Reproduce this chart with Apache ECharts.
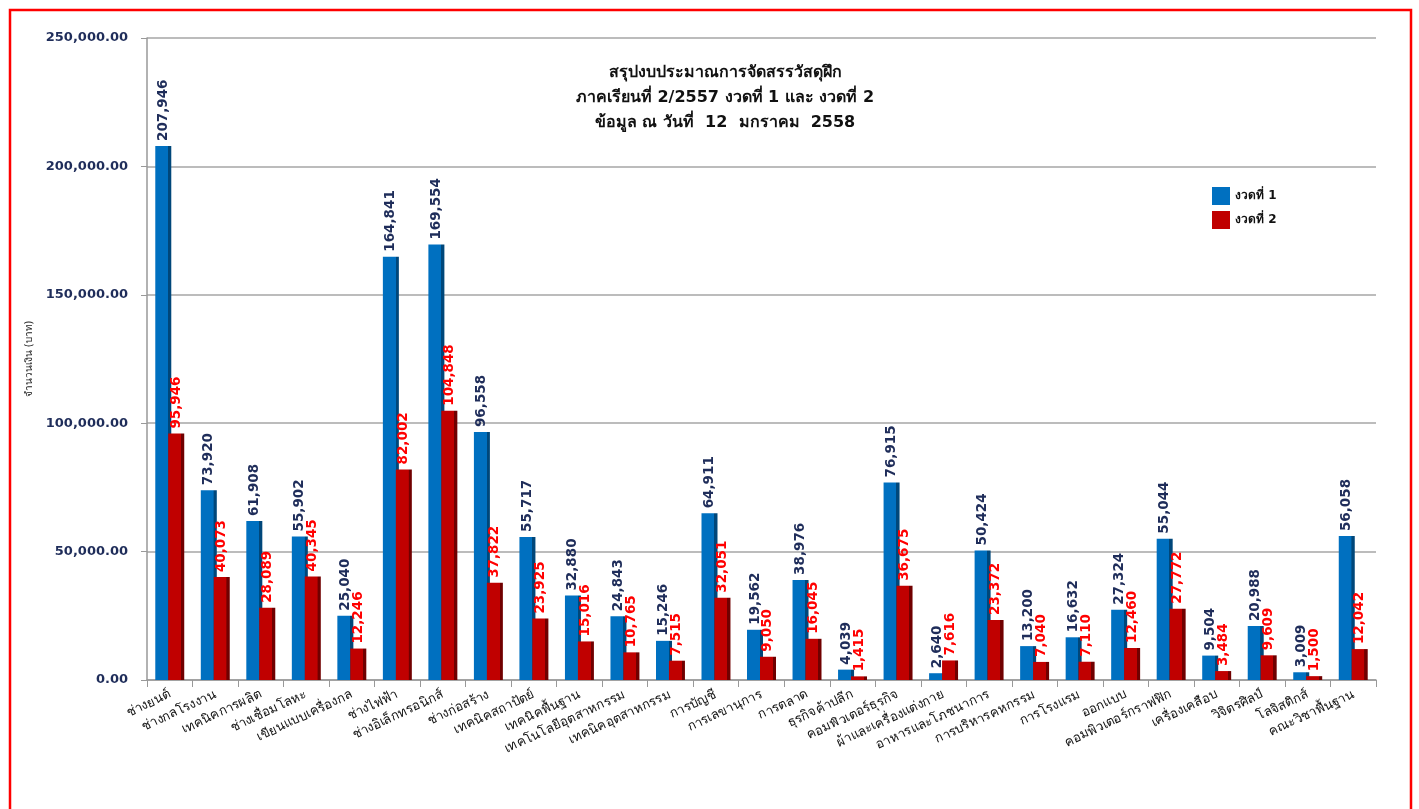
<!DOCTYPE html>
<html>
<head>
<meta charset="utf-8">
<script src="https://cdn.jsdelivr.net/npm/echarts@6/dist/echarts.min.js"></script>
<style>
html,body{margin:0;padding:0;background:#fff;}
#chart{width:1419px;height:809px;}
</style>
</head>
<body>
<div id="chart"></div>
<script>
const categories = [
  'ช่างยนต์','ช่างกลโรงงาน','เทคนิคการผลิต','ช่างเชื่อมโลหะ','เขียนแบบเครื่องกล',
  'ช่างไฟฟ้า','ช่างอิเล็กทรอนิกส์','ช่างก่อสร้าง','เทคนิคสถาปัตย์','เทคนิคพื้นฐาน',
  'เทคโนโลยีอุตสาหกรรม','เทคนิคอุตสาหกรรม','การบัญชี','การเลขานุการ','การตลาด',
  'ธุรกิจค้าปลีก','คอมพิวเตอร์ธุรกิจ','ผ้าและเครื่องแต่งกาย','อาหารและโภชนาการ','การบริหารคหกรรม',
  'การโรงแรม','ออกแบบ','คอมพิวเตอร์กราฟฟิก','เครื่องเคลือบ','วิจิตรศิลป์',
  'โลจิสติกส์','คณะวิชาพื้นฐาน'
];
const round1 = [
  207946,73920,61908,55902,25040,
  164841,169554,96558,55717,32880,
  24843,15246,64911,19562,38976,
  4039,76915,2640,50424,13200,
  16632,27324,55044,9504,20988,
  3009,56058
];
const round2 = [
  95946,40073,28089,40345,12246,
  82002,104848,37822,23925,15016,
  10765,7515,32051,9050,16045,
  1415,36675,7616,23372,7040,
  7110,12460,27772,3484,9609,
  1500,12042
];
const seriesNames = ['งวดที่ 1','งวดที่ 2'];
const titleLines = ['สรุปงบประมาณการจัดสรรวัสดุฝึก','ภาคเรียนที่ 2/2557 งวดที่ 1 และ งวดที่ 2','ข้อมูล ณ วันที่  12  มกราคม  2558'];
const yAxisName = 'จำนวนเงิน (บาท)';

const FONT = 'Tahoma, "DejaVu Sans", "Noto Sans", sans-serif';
const chart = echarts.init(document.getElementById('chart'));
function grad(front, side){
  return new echarts.graphic.LinearGradient(0,0,1,0,[
    {offset:0,color:front},{offset:0.79,color:front},
    {offset:0.8,color:side},{offset:1,color:side}
  ]);
}
const fmt = v => Number(v).toLocaleString('en-US');
chart.setOption({
  backgroundColor:'#fff',
  animation:false,
  title:{
    text: titleLines.join('\n'),
    left: 720, top: 55, textAlign:'center',
    textStyle:{fontFamily:FONT,fontSize:16,fontWeight:'bold',color:'#111',lineHeight:25}
  },
  legend:{
    orient:'vertical', left:1207, top:182,
    itemWidth:18,itemHeight:18,itemGap:6,
    icon:'rect',
    textStyle:{fontFamily:FONT,fontSize:12,fontWeight:'bold',color:'#111',padding:[0,0,6,0]},
    data:[{name:seriesNames[0],itemStyle:{color:'#0070C0'}},{name:seriesNames[1],itemStyle:{color:'#C00000'}}]
  },
  grid:{left:147,right:43,top:38,bottom:129,containLabel:false},
  xAxis:{
    type:'category',
    data:categories,
    axisLine:{lineStyle:{color:'#999',width:1.5}},
    axisTick:{show:true,alignWithLabel:false,length:7,lineStyle:{color:'#999'}},
    axisLabel:{rotate:25,interval:0,fontFamily:FONT,fontSize:13,color:'#111',margin:14}
  },
  yAxis:{
    type:'value',min:0,max:250000,interval:50000,
    name:yAxisName,nameLocation:'middle',nameGap:108,nameRotate:90,
    nameTextStyle:{fontFamily:FONT,fontSize:10,color:'#222'},
    axisLine:{show:true,lineStyle:{color:'#999',width:1.5}},
    axisTick:{show:true,length:6,lineStyle:{color:'#999'}},
    axisLabel:{fontFamily:FONT,fontSize:13,fontWeight:'bold',color:'#1F2D5A',margin:19,
      formatter:v=>Number(v).toLocaleString('en-US',{minimumFractionDigits:2,maximumFractionDigits:2})},
    splitLine:{lineStyle:{color:'#A6A6A6',width:1.5}}
  },
  series:[
    {
      name:seriesNames[0],type:'bar',data:round1,barWidth:16,barGap:'-19%',
      itemStyle:{color:grad('#0070C0','#00477A')},
      label:{show:true,position:'top',rotate:90,align:'left',verticalAlign:'middle',distance:5,
        fontFamily:FONT,fontSize:13.5,fontWeight:'bold',color:'#1F2D5A',formatter:p=>fmt(p.value)}
    },
    {
      name:seriesNames[1],type:'bar',data:round2,barWidth:16,
      itemStyle:{color:grad('#C00000','#700000')},
      label:{show:true,position:'top',rotate:90,align:'left',verticalAlign:'middle',distance:5,
        fontFamily:FONT,fontSize:13.5,fontWeight:'bold',color:'#FF0000',formatter:p=>fmt(p.value)}
    }
  ],
  graphic:[
    {type:'rect',shape:{x:10,y:10,width:1401,height:830},style:{fill:null,stroke:'#FF0000',lineWidth:2.5},silent:true,z:-1}
  ]
});
</script>
</body>
</html>
